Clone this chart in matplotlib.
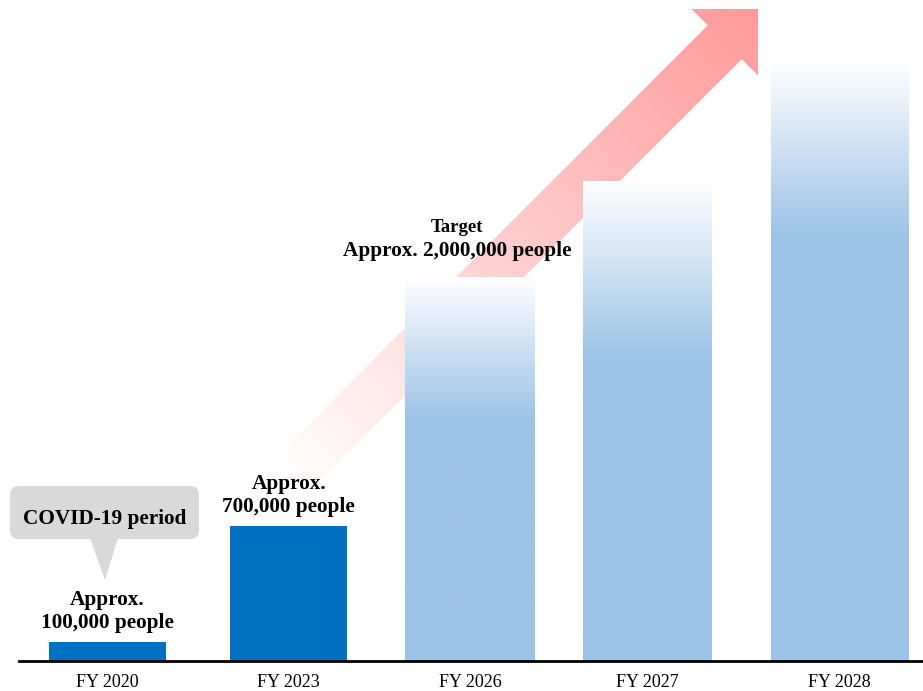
import numpy as np
import matplotlib
matplotlib.use("Agg")
import matplotlib.pyplot as plt
from matplotlib.patches import FancyBboxPatch, Polygon
from matplotlib.colors import to_rgb

plt.rcParams['font.family'] = ['Liberation Serif', 'DejaVu Serif']

# ---- data -------------------------------------------------------------
categories = ["FY 2020", "FY 2023", "FY 2026", "FY 2027", "FY 2028"]
visitors = [100_000, 700_000, 2_000_000, 2_500_000, 3_120_000]
value_labels = ["Approx.\n100,000 people", "Approx.\n700,000 people",
                "Approx. 2,000,000 people"]
target_caption = "Target"
covid_note = "COVID-19 period"

# ---- layout / style ---------------------------------------------------
W, H = 923, 691
xpos = [0, 0.99, 1.98, 2.95, 4.0]
widths = [0.64, 0.64, 0.71, 0.70, 0.754]
solid_blue = "#0070C0"
light_blue = "#9DC3E6"
fade_frac = [0, 0, 0.37, 0.37, 0.29]     # share of bar height that fades to white
arrow_rgb = to_rgb("#FF9999")
callout_grey = "#D9D9D9"
label_size = 15.3

fig = plt.figure(figsize=(W / 100, H / 100), dpi=100)

# background layer in pixel units (origin top-left) for the decorations
bg = fig.add_axes([0, 0, 1, 1], zorder=0)
bg.set_xlim(0, W)
bg.set_ylim(H, 0)
bg.axis("off")

# rising gradient arrow behind the bars
tip = np.array([758.0, 9.0])
d = np.array([1.0, -1.0]) / np.sqrt(2)
n = np.array([1.0, 1.0]) / np.sqrt(2)
head_len, head_half, shaft_half, total_len = 47, 47, 24, 669
base = tip - head_len * d
tail = tip - total_len * d
pts = [tail - shaft_half * n, base - shaft_half * n, base - head_half * n, tip,
       base + head_half * n, base + shaft_half * n, tail + shaft_half * n]
arrow_shape = Polygon(pts, closed=True, facecolor="none", edgecolor="none")
bg.add_patch(arrow_shape)
yy, xx = np.mgrid[0:H, 0:W] + 0.5
t = ((xx - tail[0]) * d[0] + (yy - tail[1]) * d[1]) / total_len
alpha = np.clip(t, 0, 1)
rgba = np.zeros((H, W, 4))
rgba[..., 0], rgba[..., 1], rgba[..., 2] = arrow_rgb
rgba[..., 3] = alpha
arrow_img = bg.imshow(rgba, extent=(0, W, H, 0), origin="upper",
                      interpolation="bilinear", aspect="auto")
arrow_img.set_clip_path(arrow_shape)

# speech-bubble note over the first bar
bubble = FancyBboxPatch((10, 486), 189, 53,
                        boxstyle="round,pad=0,rounding_size=9",
                        facecolor=callout_grey, edgecolor="none")
bg.add_patch(bubble)
bg.add_patch(Polygon([(90, 538), (118, 538), (105, 580)], closed=True,
                     facecolor=callout_grey, edgecolor="none"))
bg.text(104.5, 519, covid_note, ha="center", va="center",
        fontsize=label_size, fontweight="bold")
bg.set_xlim(0, W)
bg.set_ylim(H, 0)

# ---- main bar chart ---------------------------------------------------
ax = fig.add_axes([19 / W, 30 / H, (W - 19) / W, 661 / H], zorder=1)
ax.patch.set_alpha(0)

colors = [solid_blue, solid_blue, light_blue, light_blue, light_blue]
bars = ax.bar(xpos, visitors, width=widths, color=colors, zorder=2)

blue = np.array(to_rgb(light_blue))
white = np.ones(3)
for i, bar in enumerate(bars):
    if fade_frac[i] <= 0:
        continue
    bar.set_facecolor("none")
    frac = fade_frac[i]
    s = np.linspace(1, 0, 400)              # 1 = top of bar, 0 = baseline
    w = np.clip((s - (1 - frac)) / frac, 0, 1)
    col = (1 - w)[:, None] * blue + w[:, None] * white
    x0 = bar.get_x()
    im = ax.imshow(col[:, None, :], extent=(x0, x0 + bar.get_width(), 0, bar.get_height()),
                   origin="upper", aspect="auto", interpolation="bilinear", zorder=2)
    im.set_clip_path(bar)

# value labels
for i in range(2):
    ax.annotate(value_labels[i], xy=(xpos[i], visitors[i]), xytext=(0, 6.5),
                textcoords="offset points", ha="center", va="bottom",
                fontsize=label_size, fontweight="bold", linespacing=1.2, zorder=4)
ax.annotate(value_labels[2], xy=(xpos[2], visitors[2]), xytext=(-9, 11),
            textcoords="offset points", ha="center", va="bottom",
            fontsize=label_size, fontweight="bold", zorder=4)
ax.annotate(target_caption, xy=(xpos[2], visitors[2]), xytext=(-9, 29),
            textcoords="offset points", ha="center", va="bottom",
            fontsize=13.5, fontweight="bold", zorder=4)

ax.set_xlim(-0.484, 4.456)
ax.set_ylim(0, 3_440_000)
ax.set_xticks(xpos, categories)
ax.tick_params(axis="x", length=0, pad=9.5, labelsize=13)
ax.set_yticks([])
for side in ("top", "right", "left"):
    ax.spines[side].set_visible(False)
ax.spines["bottom"].set_linewidth(2)
ax.spines["bottom"].set_color("black")
ax.spines["bottom"].set_zorder(5)

fig.savefig("out.png", dpi=100)
